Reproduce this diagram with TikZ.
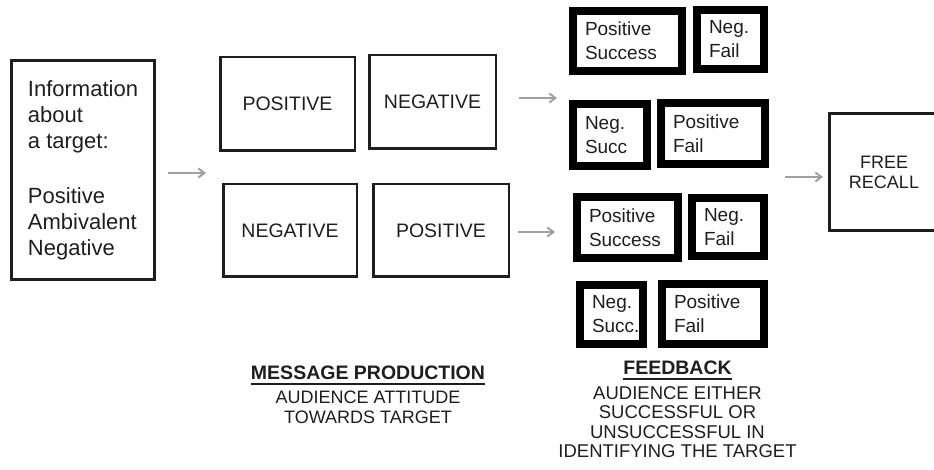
\documentclass[tikz,border=0pt]{standalone}
\usepackage{fontspec}
\setmainfont{Liberation Sans}
\usepackage{xcolor}
\usepackage{tikz}
\usetikzlibrary{arrows.meta, positioning}
\definecolor{ink}{RGB}{30,30,30}
\definecolor{arrowgray}{RGB}{160,160,160}
\newcommand{\headul}[1]{\setbox0\hbox{#1}\rlap{\rule[-5pt]{\wd0}{2pt}}\box0}
\tikzset{
    infobox/.style={rectangle, draw=ink, line width=3pt, inner sep=0pt, align=left, font=\fontsize{22}{26}\selectfont},
    msgbox/.style={rectangle, draw=ink, line width=2.5pt, inner sep=0pt, text centered, font=\fontsize{19.5}{24}\selectfont},
    fbbox/.style={rectangle, draw=black, line width=8pt, inner sep=0pt, align=left, font=\fontsize{19}{24}\selectfont},
    recallbox/.style={rectangle, draw=ink, line width=3pt, inner sep=0pt, align=center, font=\fontsize{18}{20}\selectfont},
    caption/.style={inner sep=0pt, align=center, text=ink},
    flow/.style={-{Straight Barb[length=6pt, width=9pt]}, line width=2pt, draw=arrowgray}
}
\begin{document}
\begin{tikzpicture}[x=1pt, y=1pt, text=ink]
    \useasboundingbox (0,0) rectangle (934,469);
    \clip (0,0) rectangle (934,469);

    % Information about the target
    \node[infobox, minimum width=143, minimum height=219] (info) at (83,299)
        {Information\\about\\a target:\\[29pt]Positive\\Ambivalent\\Negative};

    % Message production
    \node[msgbox, minimum width=134.5, minimum height=93.5] (pos1) at (287.5,365) {POSITIVE};
    \node[msgbox, minimum width=126.5, minimum height=93.5] (neg1) at (432.5,367) {NEGATIVE};
    \node[msgbox, minimum width=133.5, minimum height=92.5] (neg2) at (290,238.5) {NEGATIVE};
    \node[msgbox, minimum width=135.5, minimum height=92.5] (pos2) at (441,238.5) {POSITIVE};

    % Feedback, upper pair of rows
    \node[fbbox, minimum width=109, minimum height=60, text width=85pt] (fbA) at (627.5,428) {Positive\\Success};
    \node[fbbox, minimum width=67, minimum height=59, text width=43pt] (fbB) at (730.5,429.5) {Neg.\\Fail};
    \node[fbbox, minimum width=74, minimum height=62, text width=50pt] (fbC) at (610,334) {Neg.\\Succ};
    \node[fbbox, minimum width=104, minimum height=61, text width=80pt] (fbD) at (713,335.5) {Positive\\Fail};

    % Feedback, lower pair of rows
    \node[fbbox, minimum width=101, minimum height=61, text width=77pt] (fbE) at (627.5,241.5) {Positive\\Success};
    \node[fbbox, minimum width=72, minimum height=58, text width=48pt] (fbF) at (728,242) {Neg.\\Fail};
    \node[fbbox, minimum width=63, minimum height=59, text width=39pt] (fbG) at (611.5,154.5) {Neg.\\Succ.};
    \node[fbbox, minimum width=102, minimum height=60, text width=78pt] (fbH) at (713,155) {Positive\\Fail};

    % Free recall
    \node[recallbox, minimum width=109, minimum height=117] (recall) at (884,297) {FREE\\RECALL};

    % Captions
    \node[caption, anchor=north, font=\fontsize{18}{20}\selectfont] (mplabel) at (368,103)
        {\fontsize{19.5}{20}\selectfont\headul{\bfseries MESSAGE PRODUCTION}\\[4pt]AUDIENCE ATTITUDE\\TOWARDS TARGET};
    \node[caption, anchor=north, font=\fontsize{18.5}{19.5}\selectfont] (fblabel) at (677.5,108)
        {\fontsize{19.5}{19.5}\selectfont\headul{\bfseries FEEDBACK}\\[5pt]AUDIENCE EITHER\\SUCCESSFUL OR\\UNSUCCESSFUL IN\\IDENTIFYING THE TARGET};

    % Flows
    \draw[flow, shorten <=12pt, shorten >=16pt] ([yshift=-3pt]info.east) -- ([yshift=-3pt]info.east -| neg2.west);
    \draw[flow, shorten <=22pt, shorten >=12pt] ([yshift=4pt]neg1.east) -- ([yshift=4pt]neg1.east -| fbC.west);
    \draw[flow, shorten <=8pt, shorten >=18pt] ([yshift=-1.5pt]pos2.east) -- ([yshift=-1.5pt]pos2.east -| fbE.west);
    \draw[flow, shorten <=16pt, shorten >=5pt] ([yshift=-5pt]recall.west -| fbD.east) -- ([yshift=-5pt]recall.west);
\end{tikzpicture}
\end{document}
